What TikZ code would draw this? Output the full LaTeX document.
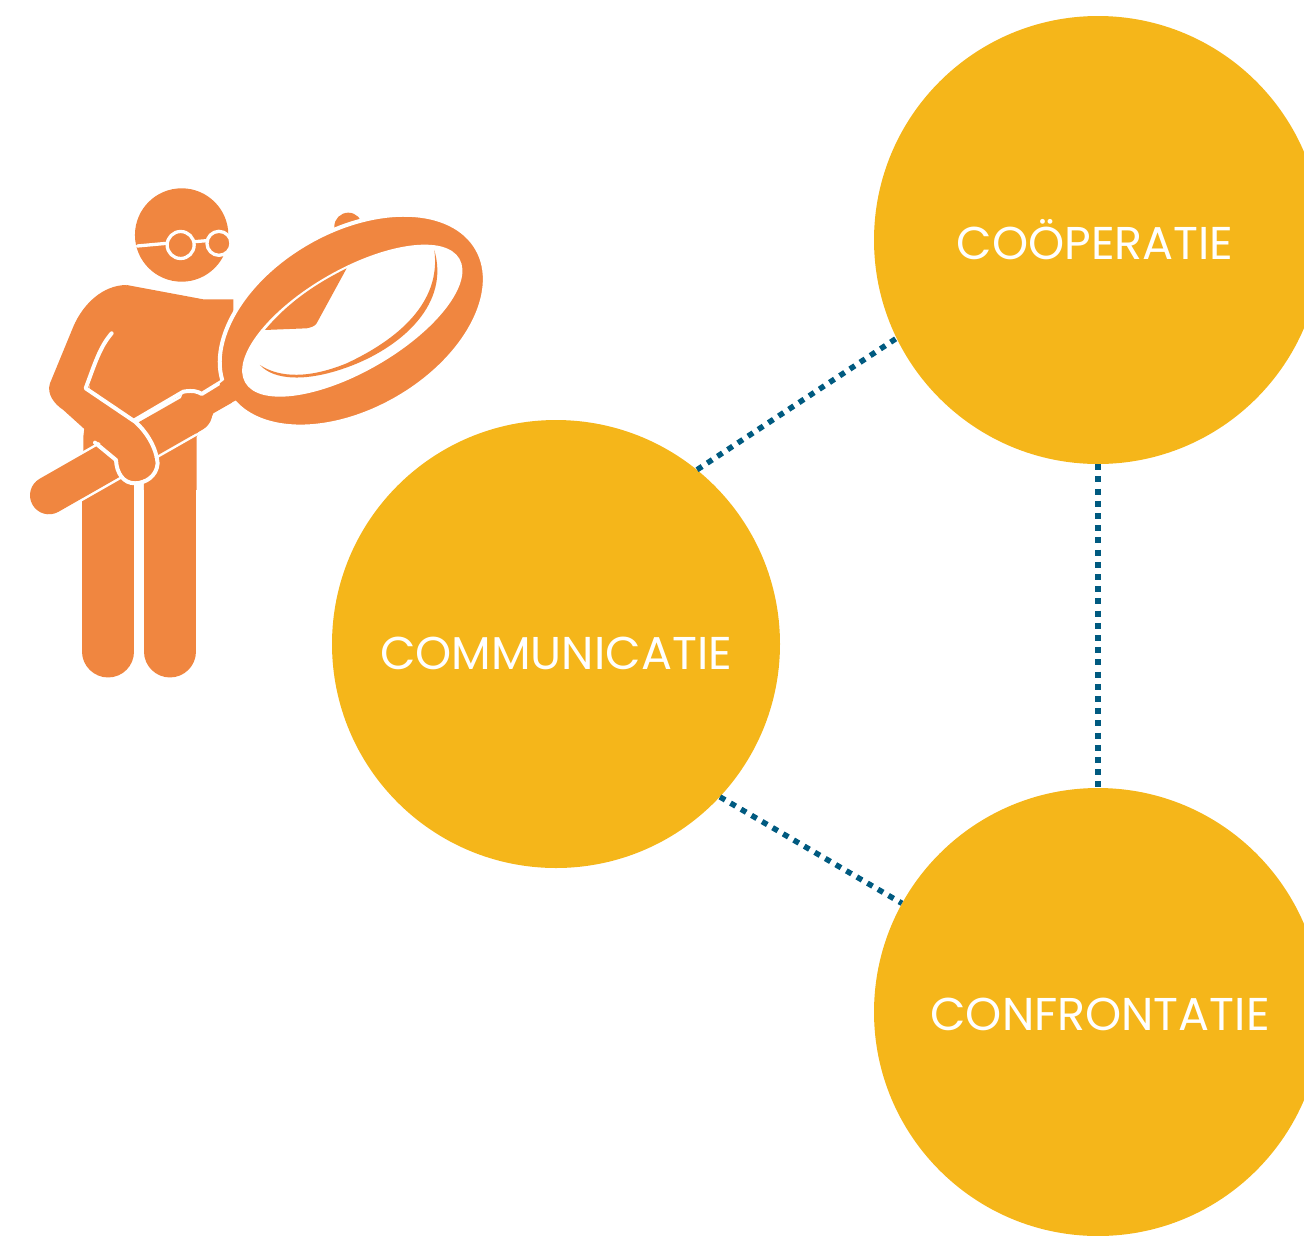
\documentclass[tikz,border=0pt]{standalone}
\usepackage{fontspec}
\setmainfont{Poppins}
\definecolor{figorange}{HTML}{F08640}
\definecolor{bubbleyellow}{HTML}{F5B61A}
\definecolor{linkblue}{HTML}{005A80}
\tikzset{
	bubble/.style={circle, fill=bubbleyellow, inner sep=0pt, minimum size=448pt},
	bubbletext/.style={text=white, inner sep=0pt, font=\fontsize{46}{46}\selectfont},
	link/.style={draw=linkblue, line width=5.5pt, dash pattern=on 6pt off 6.2pt},
	figfill/.style={fill=figorange, draw=none},
	gapline/.style={draw=white, line width=4pt, line cap=round, line join=round},
	limb/.style={draw=figorange, line width=51.7pt, line cap=round},
}
\begin{document}
\begin{tikzpicture}[x=1pt, y=-1pt]
		\useasboundingbox (0,0) rectangle (1304,1235);
		\node[bubble] (comm) at (556,644) {};
		\node[bubble] (coop) at (1098,240) {};
		\node[bubble] (conf) at (1098,1012) {};
		\node[bubbletext] (commtext) at ([yshift=-9pt]comm.center) {COMMUNICATIE};
		\node[bubbletext] (cooptext) at ([xshift=-3pt]coop.center) {COÖPERATIE};
		\node[bubbletext] (conftext) at ([xshift=2pt, yshift=-2pt]conf.center) {CONFRONTATIE};

		\path[link] (comm.51.3) -- (coop.206.2);
		\path[link] (comm.-43.2) -- (conf.151.4);
		\path[link] (coop.south) -- (conf.north);

		\begin{scope}[shift={(20pt,-170pt)}, x=0.3333pt, y=-0.3333pt]
			% legs and body
			\draw[limb] (265,950) -- (265,1445);
			\draw[limb] (450,950) -- (450,1445);
			\fill[figorange] (320,345) -- (550,388) -- (640,388) -- (640,600) -- (530,800) -- (530,960) -- (372,960) -- (372,900) -- (190,900) -- (190,800) -- (215,600) -- cycle;
			% handle
			\draw[draw=white, line width=43pt, line cap=round] (87,976) -- (520,729);
			\draw[draw=figorange, line width=38pt, line cap=round] (87,976) -- (520,729);
			\fill[figorange] (490,665) .. controls (520,660) and (535,665) .. (545,672) -- (610,632) -- (650,690) -- (580,730) .. controls (575,745) and (565,760) .. (530,790) -- (450,780) -- cycle;
			% arm
			\fill[figorange] (320,345) .. controls (250,345) and (190,400) .. (160,470) -- (90,640) .. controls (80,670) and (100,700) .. (130,720) -- (285,860) .. controls (290,905) and (310,935) .. (345,935) .. controls (380,935) and (405,900) .. (405,870) .. controls (400,820) and (370,780) .. (345,760) -- (205,660) -- (235,550) -- (275,490) -- cycle;
			\draw[gapline] (275,490) .. controls (240,530) and (225,580) .. (197,655) -- (345,755) .. controls (385,790) and (410,840) .. (413,880) .. controls (410,920) and (375,940) .. (345,940) .. controls (310,940) and (290,910) .. (288,870) -- (225,818);
			\draw[gapline] (345,750) -- (490,665) .. controls (520,660) and (535,665) .. (545,672) -- (610,632);
			% head and glasses
			\fill[figorange] (485,195) circle (46.7pt);
			\draw[gapline, line width=3.3pt] (352,228) -- (440,220);
			\draw[gapline, line width=3.3pt] (525,215) -- (560,212);
			\draw[gapline, fill=figorange, line width=3.3pt] (482,225) circle (13.5pt);
			\draw[gapline, fill=figorange, line width=3.3pt] (597,220) circle (12pt);
			% magnifier
			\fill[figorange] (985,170) circle (14pt);
			\begin{scope}[shift={(997,452)}, rotate=30]
				\draw[figfill, draw=white, line width=4pt] (0,0) ellipse (144pt and 89.7pt);
				\fill[white] (0,0) ellipse (123.7pt and 51pt);
			\end{scope}
			\fill[figorange] (735,480) -- (860,475) .. controls (875,472) and (885,468) .. (890,460) -- (980,295) .. controls (900,335) and (810,390) .. cycle;
			\fill[figorange] (720,585) .. controls (760,630) and (860,640) .. (1000,585) .. controls (1150,525) and (1290,400) .. (1243,240) .. controls (1265,400) and (1130,510) .. (980,580) .. controls (870,625) and (780,625) .. cycle;
			\fill[figorange] (600,640) -- (610,632) -- (650,600) -- (680,680) -- (650,690) -- (600,715) -- cycle;
		\end{scope}
		\end{tikzpicture}
\end{document}
